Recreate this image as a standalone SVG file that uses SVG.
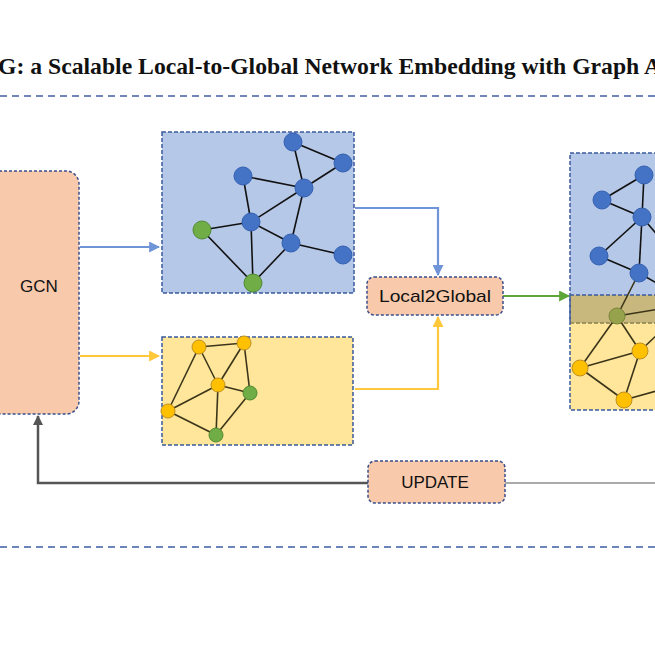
<svg xmlns="http://www.w3.org/2000/svg" width="655" height="655" viewBox="0 0 655 655">
<style>
.title{font-family:"Liberation Serif","Times New Roman",serif;font-weight:bold;font-size:24px;fill:#111}
.lbl{font-family:"Liberation Sans",Arial,sans-serif;font-size:17px;fill:#111;text-anchor:middle;dominant-baseline:central}
.sep{stroke:#3d5fa3;stroke-width:1.5;stroke-dasharray:7,5;fill:none}
.box{fill:#f8c9aa;stroke:#3a4f8c;stroke-width:1.5;stroke-dasharray:3,2}
.pb{fill:#b6c8e8;stroke:#3a5a9c;stroke-width:1.5;stroke-dasharray:4,2}
.py{fill:#ffe69a;stroke:#3a5a9c;stroke-width:1.5;stroke-dasharray:4,2}
.eb{stroke:#111;stroke-width:1.6;fill:none}
.ey{stroke:#3b351a;stroke-width:1.6;fill:none}
.nb{fill:#4472c4;stroke:#3460b0;stroke-width:1}
.ng{fill:#70ad47;stroke:#4f8a30;stroke-width:1}
.ny{fill:#ffc000;stroke:#c09020;stroke-width:1}
.no{fill:#97a24c;stroke:#7a853a;stroke-width:1}
</style>
<defs>
<marker id="aB" viewBox="0 0 10 10" refX="9" refY="5" markerWidth="5" markerHeight="5" orient="auto"><path d="M0,0L10,5L0,10z" fill="#6f94d8"/></marker>
<marker id="aY" viewBox="0 0 10 10" refX="9" refY="5" markerWidth="5" markerHeight="5" orient="auto"><path d="M0,0L10,5L0,10z" fill="#ffc73a"/></marker>
<marker id="aG" viewBox="0 0 10 10" refX="9" refY="5" markerWidth="5" markerHeight="5" orient="auto"><path d="M0,0L10,5L0,10z" fill="#5ea637"/></marker>
<marker id="aK" viewBox="0 0 10 10" refX="9" refY="5" markerWidth="4" markerHeight="4" orient="auto"><path d="M0,0L10,5L0,10z" fill="#555"/></marker>
</defs>
<rect width="655" height="655" fill="#fff"/>
<text class="title" x="-2" y="74" textLength="663" lengthAdjust="spacingAndGlyphs">G: a Scalable Local-to-Global Network Embedding with Graph A</text>
<line class="sep" x1="0" y1="96" x2="655" y2="96"/>
<line class="sep" x1="0" y1="547" x2="655" y2="547"/>

<g id="connectors" fill="none">
<line x1="80" y1="247" x2="159" y2="247" stroke="#6f94d8" stroke-width="2.2" marker-end="url(#aB)"/>
<line x1="80" y1="356" x2="159" y2="356" stroke="#ffc73a" stroke-width="2.2" marker-end="url(#aY)"/>
<polyline points="355,208 438,208 438,275" stroke="#6f94d8" stroke-width="2.2" marker-end="url(#aB)"/>
<polyline points="355,389 438,389 438,317" stroke="#ffc73a" stroke-width="2.2" marker-end="url(#aY)"/>
<line x1="503" y1="296" x2="569" y2="296" stroke="#5ea637" stroke-width="2.2" marker-end="url(#aG)"/>
<polyline points="368,483 38,483 38,416" stroke="#555" stroke-width="2.5" marker-end="url(#aK)"/>
<line x1="505" y1="483" x2="655" y2="483" stroke="#aaa" stroke-width="2.2"/>
</g>

<g id="gcn">
<rect class="box" x="-14" y="171" width="93" height="243" rx="13"/>
<text class="lbl" x="39" y="286">GCN</text>
</g>

<g id="local2global">
<rect class="box" x="367" y="277" width="136" height="38" rx="7"/>
<text class="lbl" x="435" y="296" font-size="19" textLength="112" lengthAdjust="spacingAndGlyphs">Local2Global</text>
</g>

<g id="update">
<rect class="box" x="368" y="461" width="137" height="42" rx="7"/>
<text class="lbl" x="435" y="482">UPDATE</text>
</g>

<g id="subgraph-blue">
<rect class="pb" x="162" y="132" width="192" height="161"/>
<g class="eb">
<line x1="293" y1="142" x2="343" y2="163"/>
<line x1="293" y1="142" x2="304" y2="188"/>
<line x1="343" y1="163" x2="304" y2="188"/>
<line x1="243" y1="176" x2="304" y2="188"/>
<line x1="243" y1="176" x2="251" y2="222"/>
<line x1="251" y1="222" x2="304" y2="188"/>
<line x1="251" y1="222" x2="202" y2="230"/>
<line x1="251" y1="222" x2="291" y2="243"/>
<line x1="251" y1="222" x2="253" y2="283"/>
<line x1="304" y1="188" x2="291" y2="243"/>
<line x1="291" y1="243" x2="343" y2="255"/>
<line x1="291" y1="243" x2="253" y2="283"/>
<line x1="202" y1="230" x2="253" y2="283"/>
</g>
<circle class="nb" cx="293" cy="142" r="9"/>
<circle class="nb" cx="343" cy="163" r="9"/>
<circle class="nb" cx="243" cy="176" r="9"/>
<circle class="nb" cx="304" cy="188" r="9"/>
<circle class="nb" cx="251" cy="222" r="9"/>
<circle class="nb" cx="291" cy="243" r="9"/>
<circle class="nb" cx="343" cy="255" r="9"/>
<circle class="ng" cx="202" cy="230" r="9"/>
<circle class="ng" cx="253" cy="283" r="9"/>
</g>

<g id="subgraph-yellow">
<rect class="py" x="162" y="337" width="191" height="108"/>
<g class="ey">
<line x1="199" y1="347" x2="244" y2="343"/>
<line x1="199" y1="347" x2="218" y2="385"/>
<line x1="244" y1="343" x2="218" y2="385"/>
<line x1="244" y1="343" x2="250" y2="393"/>
<line x1="218" y1="385" x2="250" y2="393"/>
<line x1="199" y1="347" x2="168" y2="411"/>
<line x1="218" y1="385" x2="168" y2="411"/>
<line x1="218" y1="385" x2="216" y2="435"/>
<line x1="168" y1="411" x2="216" y2="435"/>
<line x1="250" y1="393" x2="216" y2="435"/>
</g>
<circle class="ny" cx="199" cy="347" r="7"/>
<circle class="ny" cx="244" cy="343" r="7"/>
<circle class="ny" cx="218" cy="385" r="7"/>
<circle class="ng" cx="250" cy="393" r="7"/>
<circle class="ny" cx="168" cy="411" r="7"/>
<circle class="ng" cx="216" cy="435" r="7"/>
</g>

<g id="global-embedding">
<rect x="570" y="153" width="100" height="170" fill="#b6c8e8"/>
<rect x="570" y="295" width="100" height="115" fill="#ffe69a"/>
<rect x="570" y="295" width="100" height="28" fill="#c8b87e"/>
<path d="M670,153H570V323" fill="none" stroke="#3a5a9c" stroke-width="1.5" stroke-dasharray="4,2"/>
<line x1="570" y1="323" x2="655" y2="323" stroke="#8a8050" stroke-width="1.3" stroke-dasharray="4,2"/>
<path d="M670,295H570V410H670" fill="none" stroke="#3a5a9c" stroke-width="1.5" stroke-dasharray="4,2"/>
<g class="eb" stroke="#1a2a4a">
<line x1="602" y1="200" x2="644" y2="175"/>
<line x1="602" y1="200" x2="642" y2="217"/>
<line x1="644" y1="175" x2="642" y2="217"/>
<line x1="642" y1="217" x2="599" y2="256"/>
<line x1="642" y1="217" x2="639" y2="273"/>
<line x1="642" y1="217" x2="660" y2="238"/>
<line x1="599" y1="256" x2="639" y2="273"/>
<line x1="639" y1="273" x2="660" y2="285"/>
</g>
<g class="ey">
<line x1="639" y1="273" x2="617" y2="316"/>
<line x1="617" y1="316" x2="660" y2="309"/>
<line x1="617" y1="316" x2="640" y2="351"/>
<line x1="617" y1="316" x2="580" y2="368"/>
<line x1="640" y1="351" x2="580" y2="368"/>
<line x1="640" y1="351" x2="624" y2="400"/>
<line x1="640" y1="351" x2="660" y2="332"/>
<line x1="580" y1="368" x2="624" y2="400"/>
<line x1="624" y1="400" x2="660" y2="390"/>
</g>
<circle class="nb" cx="644" cy="175" r="9"/>
<circle class="nb" cx="602" cy="200" r="9"/>
<circle class="nb" cx="642" cy="217" r="9"/>
<circle class="nb" cx="599" cy="256" r="9"/>
<circle class="nb" cx="639" cy="273" r="9"/>
<circle class="no" cx="617" cy="316" r="8"/>
<circle class="ny" cx="640" cy="351" r="8"/>
<circle class="ny" cx="580" cy="368" r="8"/>
<circle class="ny" cx="624" cy="400" r="8"/>
</g>
</svg>
